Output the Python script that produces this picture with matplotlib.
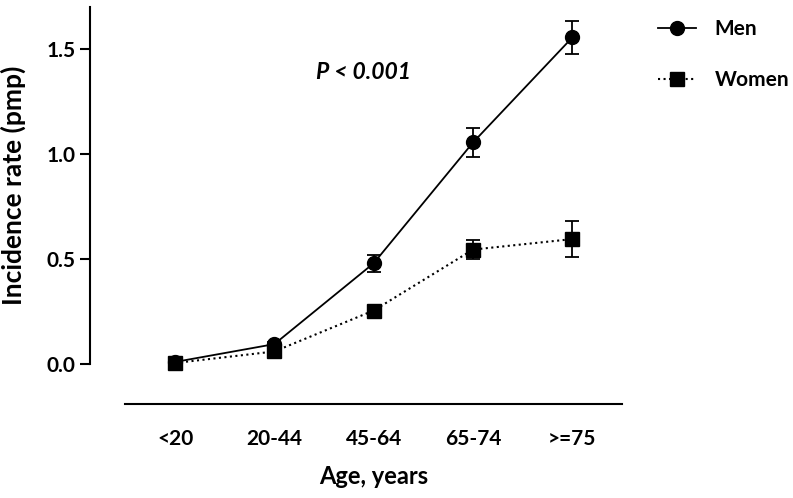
import numpy as np
from matplotlib import pyplot as plt
from matplotlib.lines import Line2D

plt.rcParams['font.family'] = ['Lato', 'DejaVu Sans']
plt.rcParams['font.weight'] = 'bold'

ages = ['<20', '20-44', '45-64', '65-74', '>=75']
men = [0.01, 0.095, 0.48, 1.055, 1.555]
men_err = [0.005, 0.01, 0.04, 0.07, 0.08]
women = [0.005, 0.06, 0.255, 0.545, 0.595]
women_err = [0.003, 0.008, 0.015, 0.045, 0.085]

fig = plt.figure(figsize=(7.93, 4.98), dpi=100)
ax = fig.add_axes([0.1135, 0.1888, 0.6709, 0.7972])

x = np.arange(len(ages))
ax.errorbar(x, men, yerr=men_err, c='black', ls='-', lw=1.3, marker='o',
	markersize=10, capsize=5, elinewidth=1.3, capthick=1.3, zorder=3)
ax.errorbar(x, women, yerr=women_err, c='black', ls=':', lw=1.5, marker='s',
	markersize=10, capsize=5, elinewidth=1.3, capthick=1.3, zorder=4)

ax.set_xlim(-0.856, 4.5)
ax.set_ylim(-0.19, 1.7)
ax.spines['top'].set_visible(False)
ax.spines['right'].set_visible(False)
ax.spines['left'].set_bounds(0, 1.7)
ax.spines['bottom'].set_bounds(-0.5, 4.5)
ax.spines['left'].set_linewidth(1.5)
ax.spines['bottom'].set_linewidth(1.5)

ax.set_yticks([0.0, 0.5, 1.0, 1.5])
ax.set_yticklabels(['0.0', '0.5', '1.0', '1.5'])
ax.set_xticks(x)
ax.set_xticklabels(ages)
ax.tick_params(axis='y', labelsize=15, length=7, width=1.5, direction='out')
ax.tick_params(axis='x', labelsize=15, length=0, pad=18)

ax.set_ylabel('Incidence rate (pmp)', fontsize=19, fontweight='bold')
ax.yaxis.set_label_coords(-0.12, 0.552)
ax.set_xlabel('Age, years', fontsize=17, fontweight='bold')
ax.xaxis.set_label_coords(0.534, -0.153)

ax.text(1.9, 1.39, 'P < 0.001', fontsize=16.5, fontweight='bold', style='italic',
	ha='center', va='center')

handles = [Line2D([], [], c='black', ls='-', lw=1.3, marker='o', markersize=10),
	Line2D([], [], c='black', ls=':', lw=1.5, marker='s', markersize=10)]
leg = fig.legend(handles, ['Men', 'Women'], loc='upper left', bbox_to_anchor=(658/793, 0.962),
	frameon=False, fontsize=15, handlelength=1.83, labelspacing=1.5, handletextpad=0.9,
	borderpad=0, borderaxespad=0)

fig.savefig('out.png', dpi=100)
